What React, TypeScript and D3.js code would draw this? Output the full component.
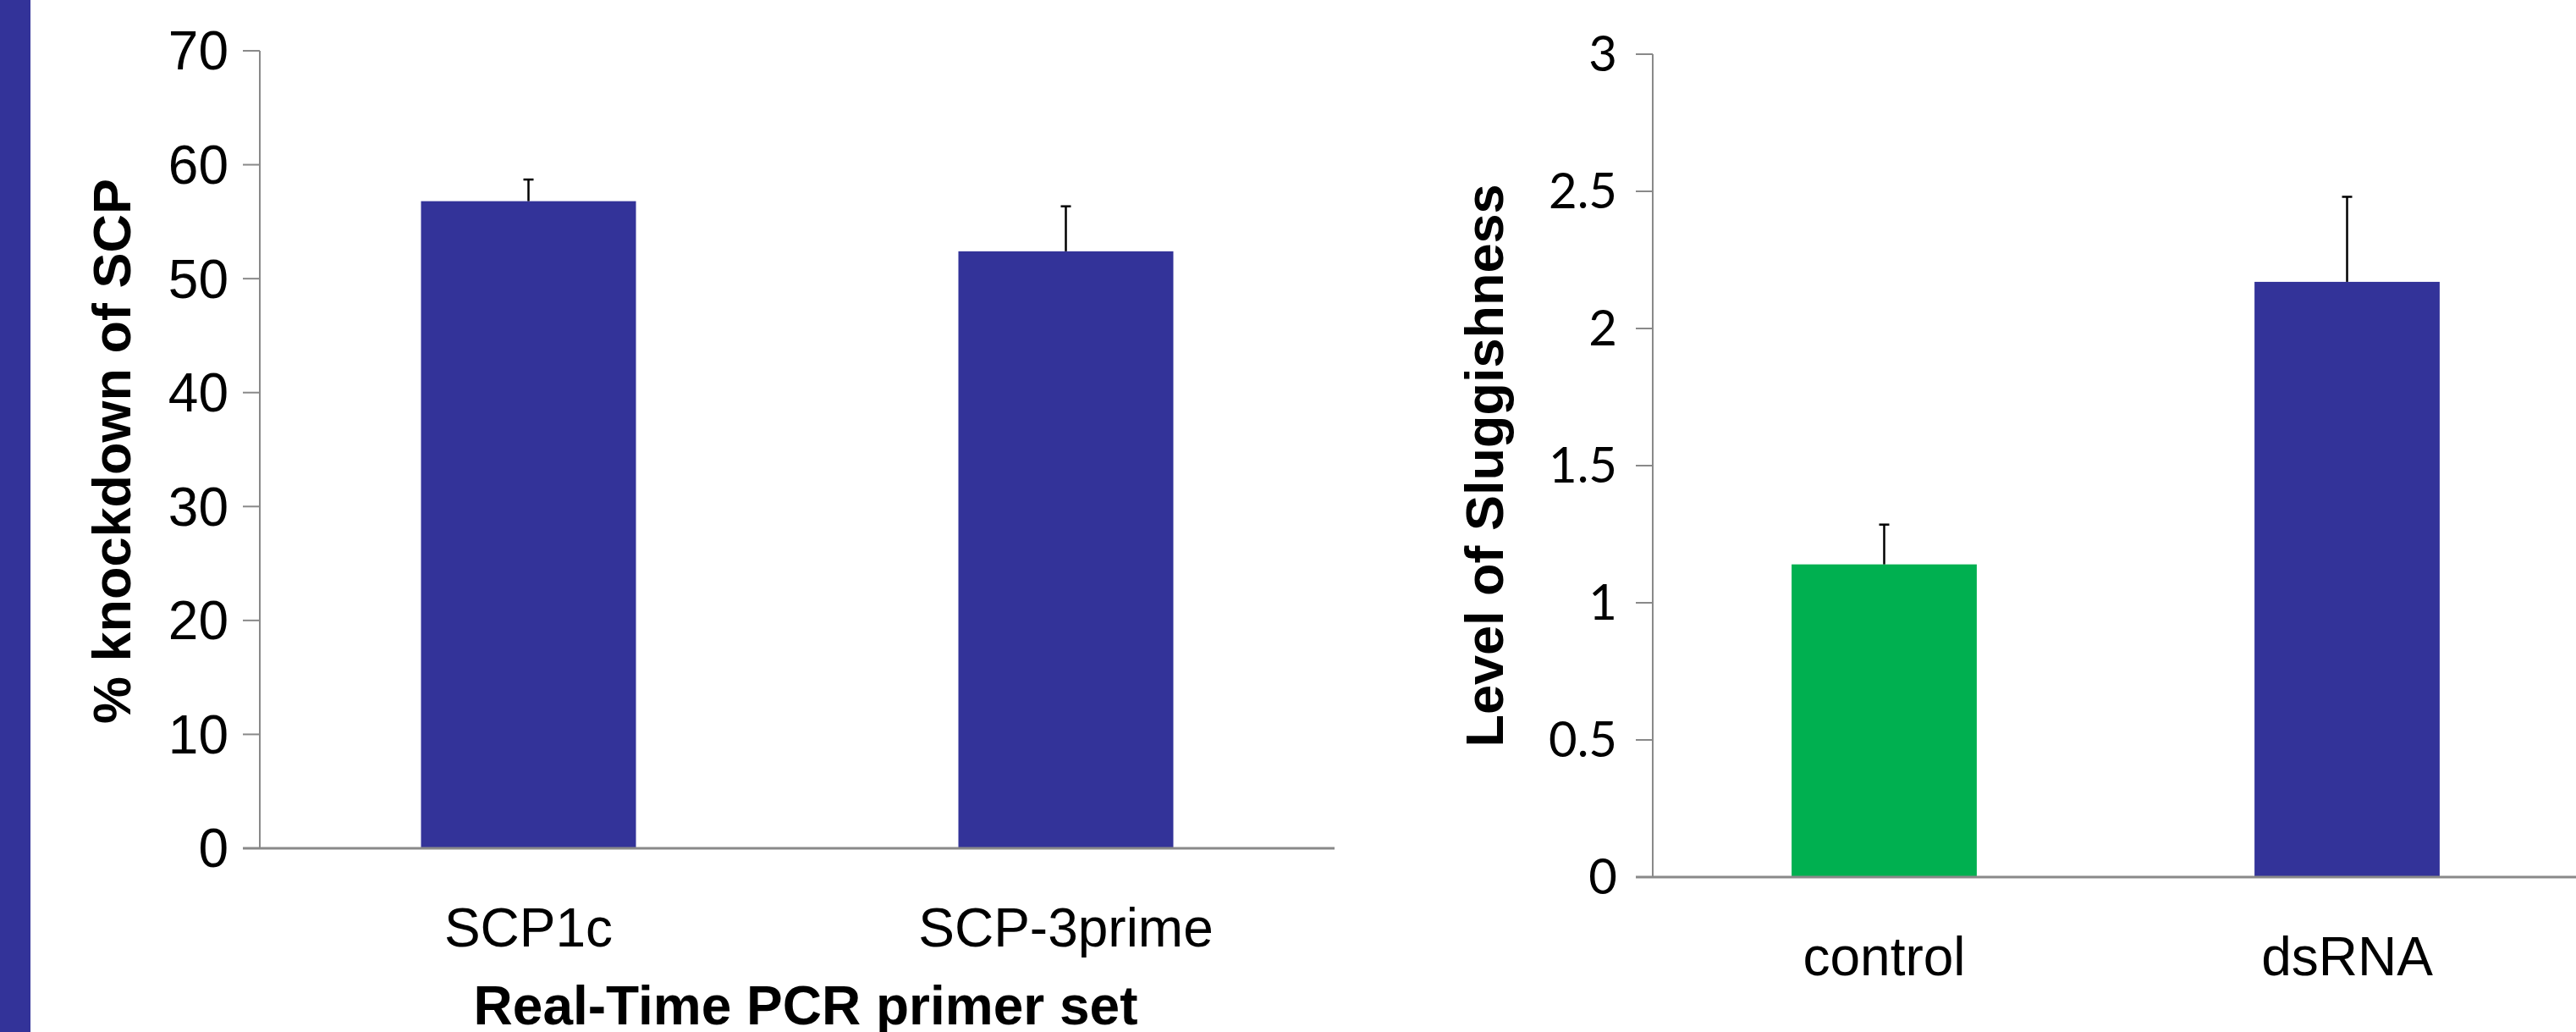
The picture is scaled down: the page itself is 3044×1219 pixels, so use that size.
import React from 'react';
import * as d3 from 'd3';

// left chart: knockdown per primer set
const leftCategories = ["SCP1c", "SCP-3prime"];
const leftValues = [56.8, 52.4];
const leftErrors = [1.9, 3.95];
const leftTicks = [0, 10, 20, 30, 40, 50, 60, 70];

// right chart: sluggishness
const rightCategories = ["control", "dsRNA"];
const rightValues = [1.14, 2.17];
const rightErrors = [0.145, 0.31];
const rightTicks = [0, 0.5, 1, 1.5, 2, 2.5, 3];
const rightColors = ["#00B050", "#333399"];

const W = 3044;
const H = 1219;
const AXIS = "#898989";
const ARIAL = "'Liberation Sans', Arial, sans-serif";

interface PanelProps {
    categories: string[];
    values: number[];
    errors: number[];
    ticks: number[];
    colors: string[];
    x0: number;
    x1: number;
    yTop: number;
    yZero: number;
    max: number;
    tickFont: string;
    tickSize: number;
    tickGap: number;
    yLabel: string;
    yLabelX: number;
    yLabelY: number;
    xLabel?: string;
}

const Panel: React.FC<PanelProps> = (p) => {
    const y = d3.scaleLinear().domain([0, p.max]).range([p.yZero, p.yTop]);
    const x = d3.scaleBand<string>()
        .domain(p.categories)
        .range([p.x0, p.x1])
        .paddingInner(0.6)
        .paddingOuter(0.3);
    const fmt = d3.format("~g");
    const tickLen = 20;

    return (
        <g>
            {/* bars */}
            {p.categories.map((c, i) => (
                <rect key={c} x={x(c)!} y={y(p.values[i])}
                    width={x.bandwidth()} height={y(0) - y(p.values[i])}
                    fill={p.colors[i % p.colors.length]} />
            ))}
            {/* error bars (upper only) */}
            {p.categories.map((c, i) => {
                const cx = x(c)! + x.bandwidth() / 2;
                const top = y(p.values[i] + p.errors[i]);
                return (
                    <g key={c + "-err"} stroke="#000" strokeWidth={2.5}>
                        <line x1={cx} x2={cx} y1={y(p.values[i])} y2={top} />
                        <line x1={cx - 6} x2={cx + 6} y1={top} y2={top} />
                    </g>
                );
            })}
            {/* y axis */}
            <line x1={p.x0} x2={p.x0} y1={y(p.max)} y2={y(0)} stroke={AXIS} strokeWidth={2} />
            {p.ticks.map(t => (
                <g key={t}>
                    <line x1={p.x0 - tickLen} x2={p.x0} y1={y(t)} y2={y(t)} stroke={AXIS} strokeWidth={2} />
                    <text x={p.x0 - tickLen - p.tickGap} y={y(t)} dy="0.35em" textAnchor="end"
                        fontFamily={p.tickFont} fontSize={p.tickSize} fill="#000">{fmt(t)}</text>
                </g>
            ))}
            {/* x axis */}
            <line x1={p.x0 - tickLen} x2={p.x1} y1={y(0)} y2={y(0)} stroke={AXIS} strokeWidth={3} />
            {p.categories.map(c => (
                <text key={c + "-lbl"} x={x(c)! + x.bandwidth() / 2} y={y(0) + 116}
                    textAnchor="middle" fontFamily={ARIAL} fontSize={64} fill="#000">{c}</text>
            ))}
            <text transform={`translate(${p.yLabelX},${p.yLabelY}) rotate(-90)`} textAnchor="middle"
                fontFamily={ARIAL} fontWeight="bold" fontSize={63} fill="#000">{p.yLabel}</text>
            {p.xLabel && (
                <text x={(p.x0 + p.x1) / 2 + 10} y={y(0) + 208} textAnchor="middle"
                    fontFamily={ARIAL} fontWeight="bold" fontSize={64} fill="#000">{p.xLabel}</text>
            )}
        </g>
    );
};

const App: React.FC = () => {
    return (
        <svg width={W} height={H} style={{ position: 'absolute', left: 0, top: 0, background: '#fff' }}>
            <rect x={0} y={0} width={W} height={H} fill="#fff" />
            <rect x={0} y={0} width={36} height={H} fill="#333399" />
            <Panel categories={leftCategories} values={leftValues} errors={leftErrors}
                ticks={leftTicks} colors={["#333399"]}
                x0={307} x1={1577} yTop={60} yZero={1002} max={70}
                tickFont={ARIAL} tickSize={64} tickGap={17}
                yLabel="% knockdown of SCP" yLabelX={154} yLabelY={533}
                xLabel="Real-Time PCR primer set" />
            <Panel categories={rightCategories} values={rightValues} errors={rightErrors}
                ticks={rightTicks} colors={rightColors}
                x0={1953} x1={3047} yTop={64} yZero={1036} max={3}
                tickFont="Lato, 'Open Sans', sans-serif" tickSize={58} tickGap={22}
                yLabel="Level of Sluggishness" yLabelX={1776} yLabelY={550} />
        </svg>
    );
};

export default App;
